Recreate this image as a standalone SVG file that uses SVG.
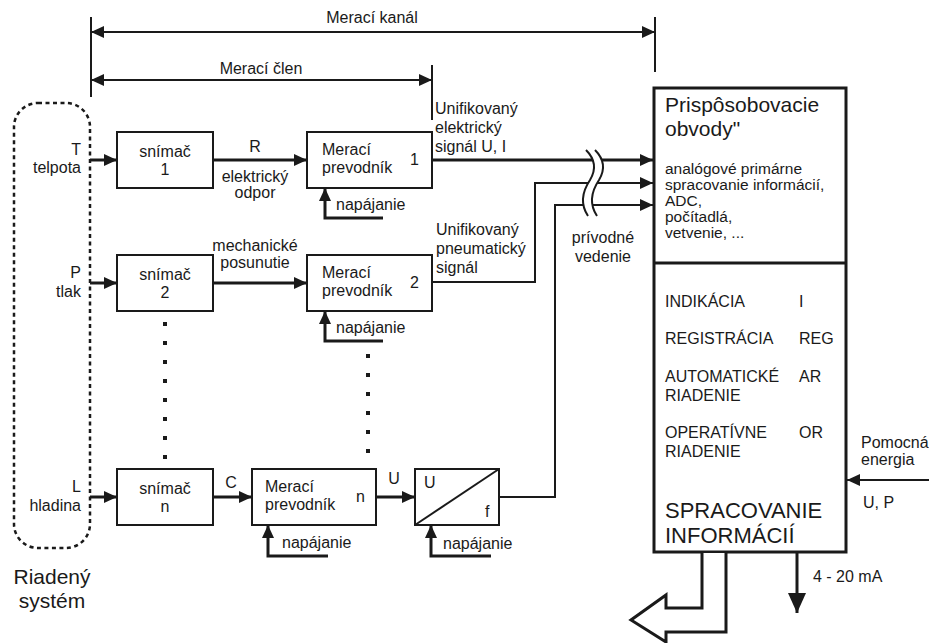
<svg xmlns="http://www.w3.org/2000/svg" width="929" height="643" viewBox="0 0 929 643">
<style>
text{font-family:"Liberation Sans",Arial,sans-serif;font-size:16px;fill:#1a1a1a}
.c{text-anchor:middle}
.e{text-anchor:end}
.box{fill:#fff;stroke:#1a1a1a;stroke-width:2}
.ln{fill:none;stroke:#1a1a1a;stroke-width:3}
.thin{fill:none;stroke:#1a1a1a;stroke-width:2}
.sm{font-size:15.5px}
.big{font-size:21px}
.huge{font-size:22px}
</style>
<defs>
<marker id="ah" markerUnits="userSpaceOnUse" markerWidth="13" markerHeight="12" refX="13" refY="6" orient="auto-start-reverse"><path d="M0,0 L13,6 L0,12 z" fill="#1a1a1a"/></marker>
<marker id="ahb" markerUnits="userSpaceOnUse" markerWidth="20" markerHeight="20" refX="20" refY="10" orient="auto"><path d="M0,1 L20,10 L0,19 z" fill="#1a1a1a"/></marker>
</defs>

<g id="riadeny-system">
<rect x="14" y="103" width="76" height="445" rx="24" ry="24" fill="none" stroke="#1a1a1a" stroke-width="2.5" stroke-dasharray="4 3.5"/>
<text class="e" x="81" y="155">T</text>
<text class="e" x="81" y="173">telpota</text>
<text class="e" x="81" y="278">P</text>
<text class="e" x="81" y="297">tlak</text>
<text class="e" x="81" y="492">L</text>
<text class="e" x="81" y="511">hladina</text>
<text class="c" x="52" y="584" style="font-size:21px">Riadený</text>
<text class="c" x="52" y="608" style="font-size:21px">systém</text>
</g>

<g id="snimac1"><rect class="box" x="117" y="132" width="96" height="56"/><text class="c" x="165" y="157">snímač</text><text class="c" x="165" y="175">1</text></g>
<g id="snimac2"><rect class="box" x="117" y="255" width="96" height="56"/><text class="c" x="165" y="280">snímač</text><text class="c" x="165" y="298">2</text></g>
<g id="snimacn"><rect class="box" x="117" y="469" width="96" height="56"/><text class="c" x="165" y="494">snímač</text><text class="c" x="165" y="512">n</text></g>

<g id="prevodnik1"><rect class="box" x="307" y="132" width="125" height="56"/><text x="322" y="155">Merací</text><text x="322" y="173">prevodník</text><text x="410" y="165">1</text></g>
<g id="prevodnik2"><rect class="box" x="307" y="255" width="125" height="56"/><text x="322" y="278">Merací</text><text x="322" y="296">prevodník</text><text x="410" y="288">2</text></g>
<g id="prevodnikn"><rect class="box" x="252" y="469" width="124" height="56"/><text x="265" y="492">Merací</text><text x="265" y="510">prevodník</text><text x="356" y="502">n</text></g>

<g id="prevodnik-uf"><rect class="box" x="415" y="469" width="84" height="56"/><line x1="415" y1="525" x2="499" y2="469" stroke="#1a1a1a" stroke-width="2"/><text x="424" y="488">U</text><text x="485" y="517">f</text></g>

<g id="spracovanie">
<rect x="654" y="88" width="192" height="464" fill="#fff" stroke="#1a1a1a" stroke-width="3"/>
<line x1="654" y1="263" x2="846" y2="263" stroke="#1a1a1a" stroke-width="3"/>
<text class="big" x="665" y="112">Prispôsobovacie</text>
<text class="big" x="665" y="136">obvody"</text>
<text class="sm" x="665" y="174">analógové primárne</text>
<text class="sm" x="665" y="190">spracovanie informácií,</text>
<text class="sm" x="665" y="206">ADC,</text>
<text class="sm" x="665" y="222">počítadlá,</text>
<text class="sm" x="665" y="238">vetvenie, ...</text>
<text x="665" y="307">INDIKÁCIA</text><text x="799" y="307">I</text>
<text x="665" y="344">REGISTRÁCIA</text><text x="799" y="344">REG</text>
<text x="665" y="382">AUTOMATICKÉ</text><text x="799" y="382">AR</text>
<text x="665" y="401">RIADENIE</text>
<text x="665" y="438">OPERATÍVNE</text><text x="799" y="438">OR</text>
<text x="665" y="457">RIADENIE</text>
<text class="huge" x="665" y="518">SPRACOVANIE</text>
<text class="huge" x="665" y="543">INFORMÁCIÍ</text>
</g>

<g id="connectors">
<path class="ln" d="M90,160 H117" marker-end="url(#ah)"/>
<path class="ln" d="M213,160 H307" marker-end="url(#ah)"/>
<path class="ln" d="M90,283 H117" marker-end="url(#ah)"/>
<path class="ln" d="M213,283 H307" marker-end="url(#ah)"/>
<path class="ln" d="M90,497 H117" marker-end="url(#ah)"/>
<path class="ln" d="M213,497 H252" marker-end="url(#ah)"/>
<path class="ln" d="M376,497 H415" marker-end="url(#ah)"/>
<path class="ln" d="M383,218 H325 V188" marker-end="url(#ah)"/>
<path class="ln" d="M383,341 H325 V311" marker-end="url(#ah)"/>
<path class="ln" d="M328,556 H268 V525" marker-end="url(#ah)"/>
<path class="ln" d="M491,556 H431 V525" marker-end="url(#ah)"/>
<path class="ln" d="M432,160 H653" marker-end="url(#ah)"/>
<path class="thin" d="M432,282 H535 V183 H653" marker-end="url(#ah)"/>
<path class="thin" d="M499,497 H555 V205 H653" marker-end="url(#ah)"/>
<path d="M586,150 C596,160 596,170 590,180 C582,192 580,204 588,216 L597,216 C589,204 591,192 599,180 C605,170 605,160 595,150 Z" fill="#fff" stroke="none"/>
<path class="thin" d="M586,150 C596,160 596,170 590,180 C582,192 580,204 588,216" stroke-width="1.5"/>
<path class="thin" d="M595,150 C605,160 605,170 599,180 C591,192 589,204 597,216" stroke-width="1.5"/>
<line x1="165" y1="322" x2="165" y2="459" stroke="#1a1a1a" stroke-width="4" stroke-dasharray="4 15"/>
<line x1="368" y1="354" x2="368" y2="453" stroke="#1a1a1a" stroke-width="4" stroke-dasharray="4 15"/>
<path class="thin" d="M91,17 V97 M655,17 V72 M432,65 V120" stroke-width="2.5"/>
<path class="thin" d="M91,32 H655" stroke-width="2.5" marker-start="url(#ah)" marker-end="url(#ah)"/>
<path class="thin" d="M91,80 H432" stroke-width="2.5" marker-start="url(#ah)" marker-end="url(#ah)"/>
<path class="thin" d="M929,480 H847" marker-end="url(#ah)"/>
<path class="ln" d="M797,552 V613" marker-end="url(#ahb)"/>
<path d="M702,553 V608 H666 V595 L631,620 L666,642 V632 H726 V553" fill="#fff" stroke="#1a1a1a" stroke-width="3" stroke-linejoin="miter"/>
</g>

<g id="labels">
<text class="c" x="372" y="23">Merací kanál</text>
<text class="c" x="261" y="74">Merací člen</text>
<text class="c" x="255" y="152">R</text>
<text class="c" x="255" y="182">elektrický</text>
<text class="c" x="255" y="198">odpor</text>
<text class="c" x="255" y="251">mechanické</text>
<text class="c" x="255" y="268">posunutie</text>
<text x="435" y="114">Unifikovaný</text>
<text x="435" y="133">elektrický</text>
<text x="435" y="152">signál U, I</text>
<text x="436" y="235">Unifikovaný</text>
<text x="436" y="254">pneumatický</text>
<text x="436" y="273">signál</text>
<text class="c" x="603" y="243">prívodné</text>
<text class="c" x="603" y="262">vedenie</text>
<text x="336" y="210">napájanie</text>
<text x="336" y="333">napájanie</text>
<text x="282" y="548">napájanie</text>
<text x="443" y="549">napájanie</text>
<text class="c" x="231" y="488">C</text>
<text class="c" x="394" y="484">U</text>
<text x="861" y="448">Pomocná</text>
<text x="861" y="465">energia</text>
<text x="863" y="508">U, P</text>
<text x="813" y="582">4 - 20 mA</text>
</g>
</svg>
